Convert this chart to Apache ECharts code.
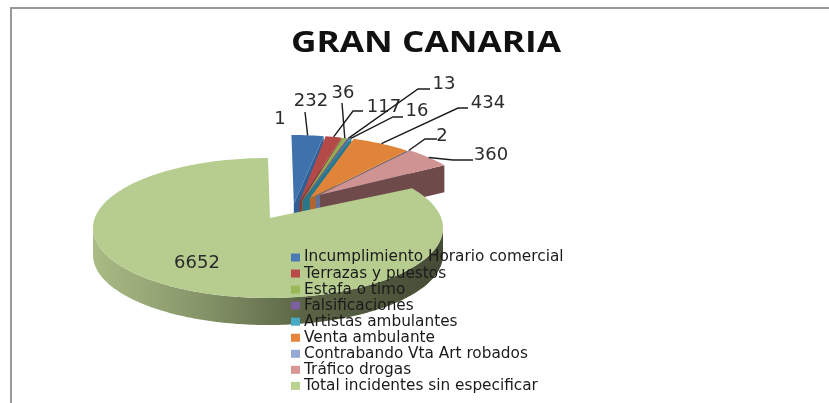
<!DOCTYPE html>
<html>
<head>
<meta charset="utf-8">
<style>
  html, body { margin: 0; padding: 0; background: #fff; }
  #chart { width: 829px; height: 403px; filter: blur(0.4px); }
</style>
<script src="https://cdn.jsdelivr.net/npm/echarts@6/dist/echarts.min.js"></script>
</head>
<body>
<div id="chart"></div>
<script>
// the "1" slice has no row in the original legend, so its name stays out of legendNames
const legendNames = [
  "Incumplimiento Horario comercial",
  "Terrazas y puestos",
  "Estafa o timo",
  "Falsificaciones",
  "Artistas ambulantes",
  "Venta ambulante",
  "Contrabando Vta Art robados",
  "Tráfico drogas",
  "Total incidentes sin especificar",
];
const sliceNames = ["Sin leyenda", ...legendNames];
const sliceValues = [1, 232, 117, 36, 13, 16, 434, 2, 360, 6652];
const sliceColors = [
  "#c9d3de", "#3f72ad", "#b34a47", "#93ad52", "#7a5a9c",
  "#2f8fa8", "#e0843a", "#7f97c6", "#cf9392", "#b7cd90",
];
const wallColors = [
  "#aab4bf", "#2f5f96", "#8c3634", "#6f8a3c", "#5d4578",
  "#28788d", "#b3662b", "#5f7299", "#6e4a4a", "#5b6545",
];
const legendColors = [
  "#c9d3de", "#4a7ab5", "#b84b48", "#98b955", "#7d5fa0",
  "#46aac5", "#e8853c", "#95a9d6", "#d99694", "#bad38f",
];

// where each value label sits, and the elbow of its leader line (null = no leader)
const labelSpots = [
  { x: 280, y: 119, elbow: null },
  { x: 311, y: 101, elbow: [305, 112] },
  { x: 384, y: 107, elbow: [353, 111], end: [363, 111] },
  { x: 343, y: 93, elbow: [342, 103] },
  { x: 444, y: 84, elbow: [418, 89], end: [430, 89] },
  { x: 417, y: 111, elbow: [393, 117], end: [403, 117] },
  { x: 488, y: 103, elbow: [458, 108], end: [468, 108] },
  { x: 442, y: 136, elbow: [425, 139], end: [437, 139] },
  { x: 491, y: 155, elbow: [453, 160], end: [473, 160] },
  { x: 197, y: 263, elbow: null },
];

const pie = { cx: 268, cy: 228, rx: 175, ry: 70, depth: 27 };
const mainIndex = sliceValues.length - 1;
const total = sliceValues.reduce((a, b) => a + b, 0);

const toAngle = (v) => echarts.number.linearMap(v, [0, total], [0, Math.PI * 2]);

// clockwise from 12 o'clock, flattened to the ellipse
const onRim = (angle, dx, dy) => [
  pie.cx + dx + pie.rx * Math.sin(angle),
  pie.cy + dy - pie.ry * Math.cos(angle),
];

const arcPoints = (from, to, dx, dy) => {
  const pts = [];
  const steps = Math.max(2, Math.ceil((to - from) / 0.02));
  for (let i = 0; i <= steps; i++) {
    pts.push(onRim(from + ((to - from) * i) / steps, dx, dy));
  }
  return pts;
};

const renderSlice = (params, api) => {
  const i = params.seriesIndex;
  const value = api.value(0);
  const before = sliceValues.slice(0, i).reduce((a, b) => a + b, 0);
  const start = toAngle(before);
  const end = toAngle(before + value);
  const mid = (start + end) / 2;
  const isMain = i === mainIndex;

  // small slices are pulled out of the pie, the big one stays put
  const dx = isMain ? 0 : 22 + 14 * Math.sin(mid);
  const dy = isMain ? 0 : -23;
  const apex = isMain
    ? [270, 218]
    : [pie.cx + dx + 27 * Math.sin(mid), pie.cy + dy - 14 * Math.sin(mid)];
  const rim = arcPoints(start, end, dx, dy);
  const children = [];

  if (isMain) {
    // front wall, only the rim between 3 and 9 o'clock shows
    const front = arcPoints(Math.PI / 2, (Math.PI * 3) / 2, dx, dy);
    const lower = front.map((p) => [p[0], p[1] + pie.depth]).reverse();
    children.push({
      type: "polygon",
      shape: { points: front.concat(lower) },
      style: {
        fill: new echarts.graphic.LinearGradient(0, 0, 1, 0, [
          { offset: 0, color: "#aabb85" },
          { offset: 0.3, color: "#87966a" },
          { offset: 0.6, color: wallColors[i] },
          { offset: 1, color: "#454c36" },
        ]),
      },
    });
  } else {
    // cut face on the clockwise side of the wedge
    const outer = rim[rim.length - 1];
    children.push({
      type: "polygon",
      shape: {
        points: [
          apex,
          outer,
          [outer[0], outer[1] + pie.depth],
          [apex[0], apex[1] + pie.depth],
        ],
      },
      style: { fill: wallColors[i] },
    });
  }

  children.push({
    type: "polygon",
    shape: { points: [apex, ...rim] },
    style: { fill: sliceColors[i] },
  });

  const spot = labelSpots[i];
  if (spot.elbow) {
    const anchor = onRim(mid, dx, dy);
    const line = [anchor, spot.elbow];
    if (spot.end) line.push(spot.end);
    children.push({
      type: "polyline",
      shape: { points: line },
      style: { stroke: "#1c1c1c", lineWidth: 1.4, fill: null },
    });
  }
  children.push({
    type: "text",
    style: {
      text: String(value),
      x: spot.x,
      y: spot.y,
      fill: "#2b2b2b",
      font: '18px "DejaVu Sans"',
      textAlign: "center",
      textVerticalAlign: "middle",
    },
  });

  return { type: "group", children };
};

const chart = echarts.init(document.getElementById("chart"), null, { renderer: "canvas" });

chart.setOption({
  animation: false,
  backgroundColor: "#fff",
  legend: {
    data: legendNames,
    orient: "vertical",
    left: 286,
    top: 245,
    itemWidth: 9,
    itemHeight: 8,
    itemGap: 1.05,
    selectedMode: false,
    icon: "rect",
    textStyle: {
      color: "#1a1a1a",
      fontFamily: "DejaVu Sans",
      fontSize: 15.3,
      padding: [0, 0, 0, -1],
    },
  },
  series: sliceValues.map((value, i) => ({
    name: sliceNames[i],
    type: "custom",
    coordinateSystem: "none",
    silent: true,
    itemStyle: { color: legendColors[i] },
    data: [[value]],
    renderItem: renderSlice,
  })),
  graphic: [
    {
      // the original title is a wide stretched face, no installed font is that wide
      type: "text",
      silent: true,
      x: 426,
      y: 44,
      scaleX: 1.26,
      style: {
        text: "GRAN CANARIA",
        fill: "#111",
        font: 'bold 28px "Open Sans"',
        textAlign: "center",
        textVerticalAlign: "middle",
      },
    },
    {
      // the thin frame left over from the original screenshot
      type: "polyline",
      silent: true,
      shape: { points: [[11, 403], [11, 8], [829, 8]] },
      style: { stroke: "#999", lineWidth: 2, fill: null },
    },
  ],
});
</script>
</body>
</html>
